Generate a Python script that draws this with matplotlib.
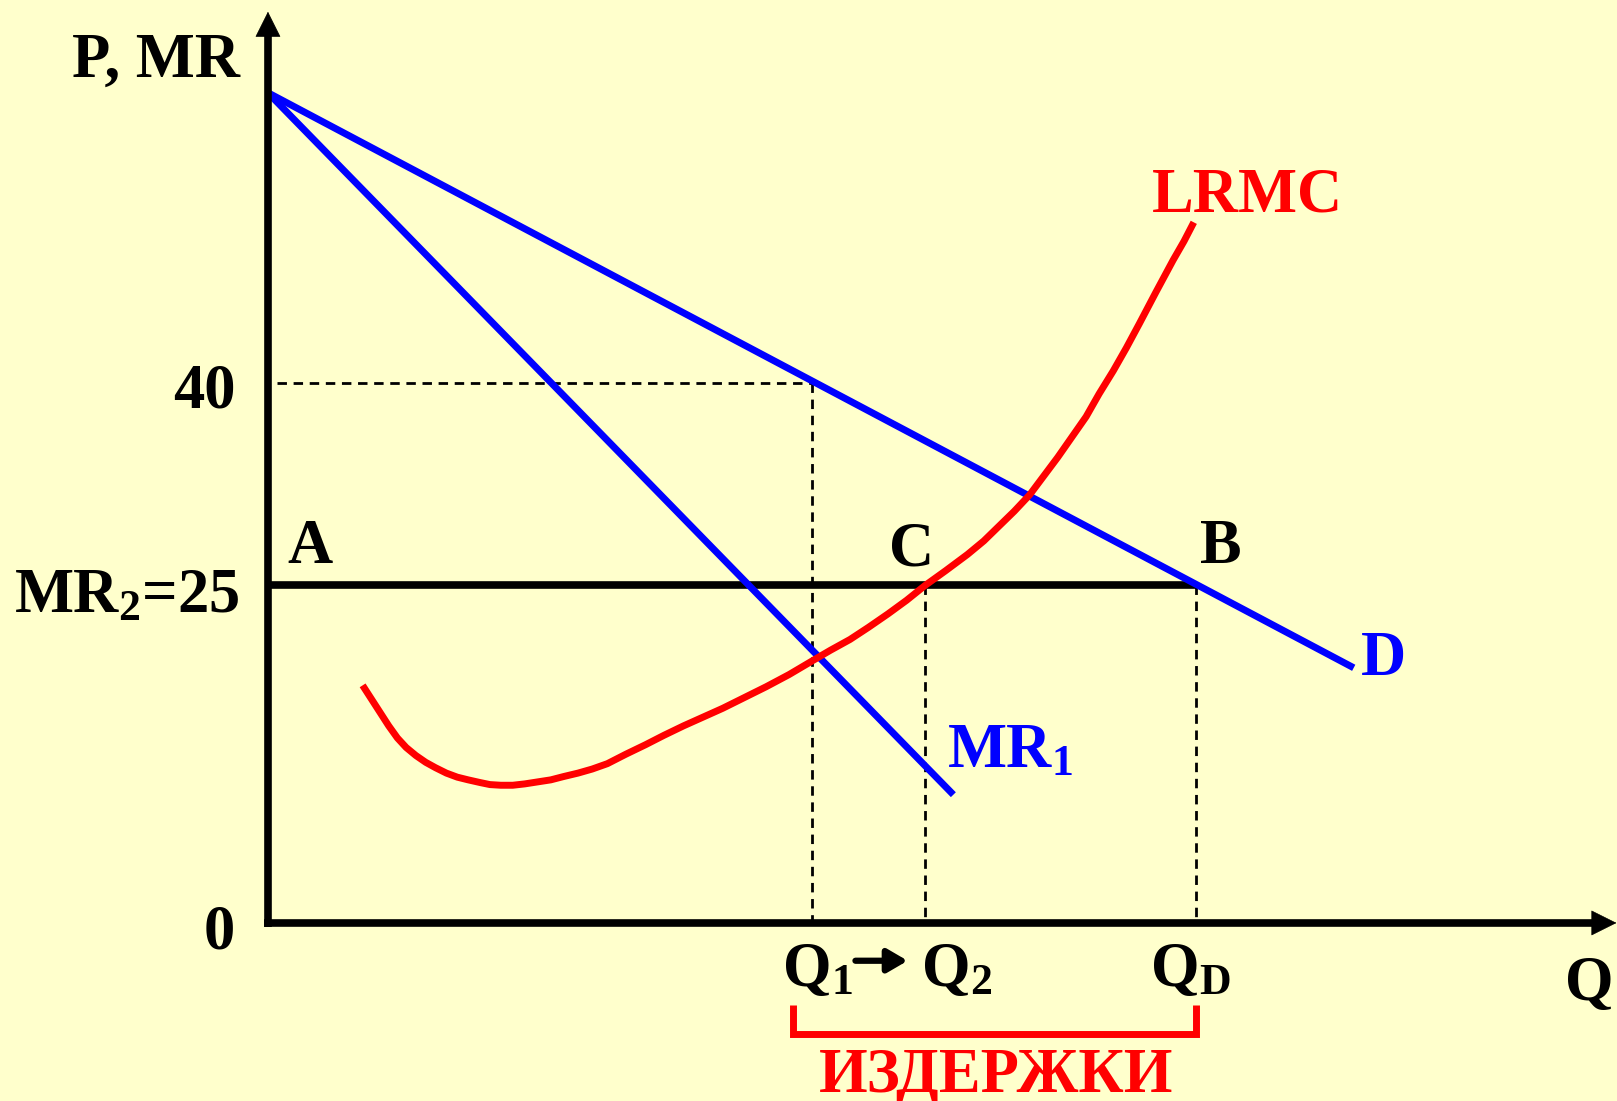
import matplotlib
matplotlib.use("Agg")
import matplotlib.pyplot as plt

# demand and marginal revenue (straight lines, two end points each)
q_demand = [0, 99.8]
p_demand = [61.5, 18.9]
q_mr1 = [0, 63.0]
p_mr1 = [61.5, 9.5]

# long run marginal cost
q_lrmc = [8.7, 9.5, 10.3, 11.1, 11.9, 12.7, 13.6, 14.5, 15.4, 16.4, 17.4, 18.4, 19.5,
          20.4, 21.4, 22.5, 23.6, 24.8, 26.0, 27.2, 28.5, 29.8, 31.2, 32.9, 34.7, 36.4,
          38.2, 40.0, 41.8, 43.8, 45.8, 47.9, 50.0, 51.7, 53.5, 55.2, 57.0, 58.7, 60.4,
          62.3, 64.3, 65.8, 67.2, 68.6, 70.0, 71.3, 72.6, 73.9, 75.2, 76.4, 77.7, 78.9,
          80.1, 81.6, 83.2, 84.2, 85.1]
p_lrmc = [17.6, 16.6, 15.6, 14.6, 13.7, 13.0, 12.4, 11.9, 11.5, 11.1, 10.8, 10.6, 10.4,
          10.25, 10.2, 10.2, 10.3, 10.45, 10.6, 10.85, 11.1, 11.4, 11.8, 12.5, 13.2, 13.9,
          14.6, 15.25, 15.9, 16.7, 17.5, 18.4, 19.4, 20.2, 21.0, 21.9, 22.9, 23.9, 25.0,
          26.1, 27.3, 28.3, 29.4, 30.5, 31.7, 33.1, 34.5, 36.0, 37.5, 39.2, 40.9, 42.6,
          44.4, 46.7, 49.1, 50.5, 51.9]

mr2 = 25
p_level = 40
q1 = 50
q2 = 60.4
qd = 85.3

BG = "#FFFFCC"
BLUE = "#0000FF"
RED = "#FF0000"

plt.rcParams['font.family'] = ['Liberation Serif', 'DejaVu Serif']
plt.rcParams['font.weight'] = 'bold'
plt.rcParams['mathtext.fontset'] = 'custom'
plt.rcParams['mathtext.rm'] = 'Liberation Serif:bold'
plt.rcParams['mathtext.it'] = 'Liberation Serif:bold'
plt.rcParams['mathtext.bf'] = 'Liberation Serif:bold'
plt.rcParams['mathtext.default'] = 'rm'

fig = plt.figure(figsize=(16.17, 11.01), dpi=100, facecolor=BG)
ax = fig.add_axes([0, 0, 1, 1])
ax.set_facecolor(BG)
ax.set_xlim(-24.63, 124.0)
ax.set_ylim(-13.19, 68.37)
ax.axis('off')

dash = (0, (3.4, 2.4))
# guide lines
ax.plot([0.8, q1], [p_level, p_level], color='k', lw=2, ls=dash)
ax.plot([q1, q1], [p_level, 0], color='k', lw=2, ls=dash)
ax.plot([q2, q2], [mr2, 0], color='k', lw=2, ls=dash)
ax.plot([qd, qd], [mr2, 0], color='k', lw=2, ls=dash)

# MR2 level A-C-B
ax.plot([0, qd], [mr2, mr2], color='k', lw=5.5, solid_capstyle='butt')

ax.plot(q_demand, p_demand, color=BLUE, lw=5, solid_capstyle='butt')
ax.plot(q_mr1, p_mr1, color=BLUE, lw=5, solid_capstyle='butt')
ax.plot(q_lrmc, p_lrmc, color=RED, lw=5, solid_capstyle='butt', solid_joinstyle='round')

# axes with arrow heads
y_top = 67.5
x_right = 123.95
ax.plot([0, 0], [-0.3, y_top - 1.4], color='k', lw=5.5, solid_capstyle='butt')
ax.plot([-0.35, x_right - 1.7], [0, 0], color='k', lw=5.5, solid_capstyle='butt')
head = dict(arrowstyle='-|>,head_length=0.4,head_width=0.2', color='k', lw=0.5,
            mutation_scale=43, shrinkA=0, shrinkB=0)
ax.annotate('', xy=(0, y_top), xytext=(0, y_top - 5), arrowprops=head)
ax.annotate('', xy=(x_right, 0), xytext=(x_right - 6, 0), arrowprops=head)

fs = 45
ax.text(-2.6, 62.7, 'P, MR', ha='right', va='baseline', fontsize=fs)
ax.text(-3.0, 38.2, '40', ha='right', va='baseline', fontsize=fs)
ax.text(-2.6, 23.0, 'MR$_2$=25', ha='right', va='baseline', fontsize=fs)
ax.text(-3.0, -1.93, '0', ha='right', va='baseline', fontsize=fs)
ax.text(1.75, 26.7, 'A', ha='left', va='baseline', fontsize=fs)
ax.text(57.1, 26.5, 'C', ha='left', va='baseline', fontsize=fs)
ax.text(85.7, 26.7, 'B', ha='left', va='baseline', fontsize=fs)
ax.text(81.25, 52.7, 'LRMC', ha='left', va='baseline', fontsize=fs, color=RED)
ax.text(100.5, 18.4, 'D', ha='left', va='baseline', fontsize=fs, color=BLUE)
ax.text(62.4, 11.5, 'MR$_1$', ha='left', va='baseline', fontsize=fs, color=BLUE)

ax.text(50.5, -4.7, 'Q$_1$', ha='center', va='baseline', fontsize=fs)
ax.text(60.0, -4.7, 'Q$_2$', ha='left', va='baseline', fontsize=fs)
ax.text(84.8, -4.7, 'Q$_D$', ha='center', va='baseline', fontsize=fs)
ax.text(119.2, -5.7, 'Q', ha='left', va='baseline', fontsize=fs)
ax.annotate('', xy=(58.8, -2.8), xytext=(54.0, -2.8),
            arrowprops=dict(arrowstyle='-|>,head_length=0.6,head_width=0.35', color='k',
                            lw=4.5, mutation_scale=20, shrinkA=0, shrinkB=0))

# cost bracket under the axis
ax.plot([48.3, 48.3, qd, qd], [-6.1, -8.25, -8.25, -6.1], color=RED, lw=5,
        solid_joinstyle='miter', solid_capstyle='butt')
ax.text(66.9, -12.55, 'ИЗДЕРЖКИ', ha='center', va='baseline', fontsize=fs, color=RED)

fig.savefig('out.png', dpi=100, facecolor=BG)
